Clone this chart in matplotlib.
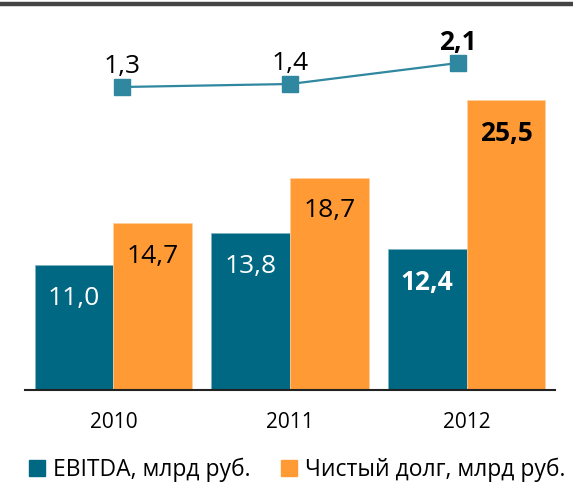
import matplotlib.pyplot as plt
import numpy as np
from matplotlib.lines import Line2D

plt.rcParams['font.family'] = ['Open Sans', 'DejaVu Sans']

years = ["2010", "2011", "2012"]
ebitda = [11.0, 13.8, 12.4]
net_debt = [14.7, 18.7, 25.5]
ratio = [1.3, 1.4, 2.1]

c_ebitda = "#006882"
c_debt = "#FF9A35"
c_line = "#2F87A0"


def fmt(v):
    return ("%.1f" % v).replace(".", ",")


fig = plt.figure(figsize=(5.73, 4.88), dpi=100)
ax = fig.add_axes([25 / 573, 98 / 488, 530 / 573, 375 / 488])

x = np.arange(len(years))
w = 0.446
ax.bar(x - w / 2, ebitda, w, color=c_ebitda, edgecolor="#7fb3c1", linewidth=0.5)
ax.bar(x + w / 2, net_debt, w, color=c_debt, edgecolor="#ffd0a0", linewidth=0.5)
ax.set_xlim(-0.5, 2.5)
ax.set_ylim(0, 375 / 11.36)

for i in range(len(years)):
    bold = "bold" if i == 2 else "normal"
    ax.annotate(fmt(ebitda[i]), (x[i] - w / 2, ebitda[i]), xytext=(0, -24),
                textcoords="offset points", ha="center", va="center",
                color="white", fontsize=19, fontweight=bold)
    ax.annotate(fmt(net_debt[i]), (x[i] + w / 2, net_debt[i]),
                xytext=(0, -24), textcoords="offset points", ha="center", va="center",
                color="black", fontsize=19, fontweight=bold)

for s in ["top", "left", "right"]:
    ax.spines[s].set_visible(False)
ax.spines["bottom"].set_color("#222222")
ax.spines["bottom"].set_linewidth(1.5)
ax.set_yticks([])
ax.set_xticks(x, labels=years)
ax.tick_params(axis="x", length=0, pad=16, labelsize=15)

# line on its own overlay axes (secondary scale)
ax3 = fig.add_axes([25 / 573, 98 / 488, 530 / 573, 375 / 488], frameon=False)
ax3.set_xlim(-0.577, 2.577)
ax3.set_ylim(-8.8, 3.7)
ax3.axis("off")
ax3.plot(x, ratio, color=c_line, lw=1.6, marker="s", markersize=11.5)
for i in range(len(years)):
    bold = "bold" if i == 2 else "normal"
    ax3.annotate(fmt(ratio[i]), (x[i], ratio[i]), xytext=(0, 15),
                 textcoords="offset points", ha="center", va="center",
                 color="black", fontsize=19, fontweight=bold)

# top rule
fig.add_artist(Line2D([0, 1], [1 - 4 / 488, 1 - 4 / 488], transform=fig.transFigure,
                      color="#444444", lw=3.2))

handles = [Line2D([], [], ls="none", marker="s", markersize=11, color=c_ebitda),
           Line2D([], [], ls="none", marker="s", markersize=11, color=c_debt)]
fig.legend(handles, ["EBITDA, млрд руб.", "Чистый долг, млрд руб."], loc="center",
           bbox_to_anchor=(0.52, 18 / 488), ncol=2, frameon=False, fontsize=16.5,
           handlelength=0.6, handletextpad=0.4, columnspacing=1.4)

fig.savefig("out.png", dpi=100)
